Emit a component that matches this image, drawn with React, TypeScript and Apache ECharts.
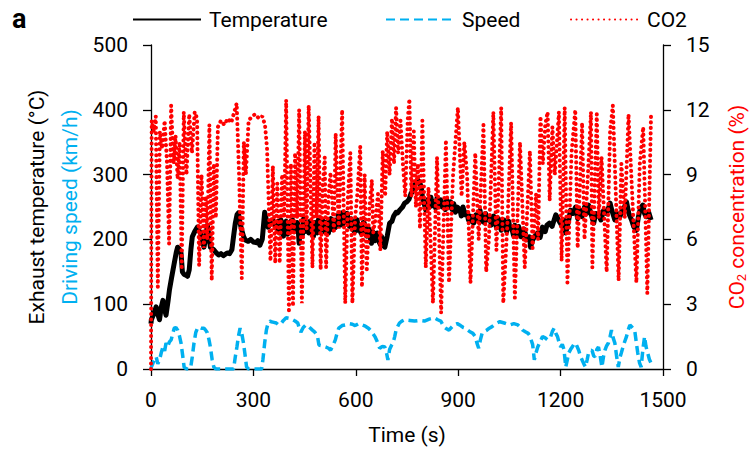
import React, { useEffect, useRef } from 'react';
import * as echarts from 'echarts';

const FONT = 'Roboto';

const xTickValues = [0, 300, 600, 900, 1200, 1500];
const leftTickValues = [0, 100, 200, 300, 400, 500];
const rightTickValues = [0, 3, 6, 9, 12, 15];
const seriesNames = ['Temperature', 'Speed', 'CO2'];

// [time (s), exhaust temperature (°C)]
const tempData: number[][] = [
  [0, 70], [1, 76], [8, 85], [15, 96], [20, 84], [25, 76], [30, 95], [35, 106], [40, 92], [44, 83],
  [50, 105], [54, 122], [60, 140], [68, 163], [74, 180], [78, 188], [83, 185], [88, 179], [92, 150],
  [97, 146], [102, 145], [107, 143], [112, 153], [117, 185], [121, 204], [128, 212], [136, 219],
  [140, 214], [145, 210], [150, 200], [155, 188], [160, 200], [165, 222], [170, 205], [174, 188],
  [179, 186], [184, 184], [190, 180], [198, 176], [205, 178], [212, 175], [223, 179], [230, 178],
  [237, 184], [242, 205], [247, 225], [252, 238], [256, 241], [261, 225], [266, 214], [271, 205],
  [276, 199], [285, 197], [292, 200], [300, 196], [308, 195], [313, 198], [319, 191], [326, 200],
  [333, 242], [338, 230], [343, 219], [350, 225], [357, 230], [364, 220], [370, 216], [373, 228],
  [377, 210], [381, 230], [384, 214], [388, 205], [392, 225], [396, 228], [400, 208], [405, 212],
  [410, 228], [415, 230], [420, 212], [425, 214], [428, 226], [430, 225], [434, 194], [437, 215],
  [440, 220], [444, 208], [447, 232], [451, 212], [454, 226], [458, 214], [462, 210], [466, 228],
  [470, 222], [473, 208], [476, 205], [480, 226], [483, 222], [487, 210], [490, 230], [494, 215],
  [497, 214], [501, 230], [505, 228], [509, 212], [512, 226], [516, 214], [520, 210], [524, 228],
  [527, 232], [532, 215], [536, 230], [540, 218], [545, 222], [549, 238], [552, 236], [556, 222],
  [560, 241], [563, 224], [567, 228], [571, 240], [575, 240], [579, 222], [582, 220], [586, 232],
  [589, 226], [593, 214], [597, 212], [600, 228], [604, 230], [608, 214], [611, 220], [615, 210],
  [618, 214], [622, 226], [625, 225], [629, 208], [632, 205], [636, 218], [639, 215], [643, 200],
  [646, 194], [649, 212], [652, 210], [656, 198], [660, 200], [663, 210], [666, 204], [669, 195],
  [672, 192], [676, 204], [679, 198], [682, 190], [685, 188], [692, 205], [699, 225], [706, 228],
  [711, 236], [718, 242], [723, 241], [730, 246], [737, 250], [743, 256], [750, 258], [756, 262],
  [762, 271], [768, 275], [774, 285], [781, 292], [787, 288], [792, 280], [796, 262], [800, 256],
  [805, 245], [812, 262], [816, 250], [820, 265], [825, 252], [830, 258], [834, 248], [838, 264],
  [843, 252], [849, 261], [853, 250], [858, 256], [862, 246], [866, 262], [872, 250], [878, 258],
  [882, 246], [887, 255], [892, 242], [897, 250], [905, 246], [909, 236], [914, 250], [920, 238],
  [926, 241], [930, 230], [935, 236], [940, 228], [945, 225], [952, 238], [958, 230], [964, 245],
  [968, 228], [972, 235], [976, 226], [980, 240], [987, 230], [993, 235], [997, 222], [1000, 226],
  [1004, 236], [1008, 232], [1012, 218], [1015, 222], [1018, 232], [1022, 225], [1026, 214],
  [1030, 220], [1034, 230], [1038, 226], [1042, 212], [1045, 218], [1048, 228], [1051, 219],
  [1058, 215], [1062, 206], [1066, 222], [1070, 205], [1073, 210], [1077, 220], [1080, 214],
  [1084, 204], [1088, 208], [1092, 216], [1095, 212], [1102, 200], [1109, 204], [1112, 188],
  [1118, 199], [1125, 205], [1133, 210], [1140, 203], [1147, 219], [1155, 212], [1160, 222],
  [1167, 225], [1175, 220], [1181, 230], [1186, 238], [1192, 232], [1198, 226], [1205, 220],
  [1210, 230], [1215, 210], [1222, 225], [1229, 245], [1236, 240], [1244, 250], [1250, 232],
  [1256, 245], [1263, 235], [1270, 250], [1276, 240], [1282, 253], [1290, 238], [1297, 225],
  [1303, 240], [1311, 238], [1318, 230], [1326, 245], [1335, 240], [1345, 256], [1350, 245],
  [1359, 230], [1366, 240], [1374, 235], [1380, 245], [1387, 250], [1393, 258], [1400, 240],
  [1408, 230], [1414, 220], [1422, 214], [1428, 235], [1434, 248], [1441, 253], [1446, 240],
  [1451, 235], [1458, 242], [1465, 230],
];

// [time (s), driving speed (km/h)]
const speedData: number[][] = [
  [0, 0], [1, 3], [8, 12], [15, 19], [20, 8], [25, 14], [30, 25], [35, 34], [40, 28], [44, 40],
  [49, 35], [54, 42], [59, 45], [64, 55], [68, 63], [73, 64], [78, 60], [83, 52], [88, 40], [93, 20],
  [97, 3], [104, 0], [112, 0], [117, 5], [121, 19], [126, 40], [131, 56], [136, 63], [140, 65],
  [148, 63], [155, 63], [160, 60], [165, 56], [170, 45], [174, 34], [179, 15], [184, 3], [190, 0],
  [203, 0], [225, 0], [242, 0], [247, 19], [252, 35], [256, 50], [261, 63], [266, 55], [271, 40],
  [276, 20], [280, 3], [286, 0], [300, 0], [324, 0], [328, 15], [333, 40], [338, 60], [343, 71],
  [348, 74], [352, 73], [360, 72], [367, 71], [374, 68], [381, 70], [388, 75], [396, 79], [405, 78],
  [415, 76], [422, 74], [430, 71], [435, 62], [439, 57], [446, 64], [454, 68], [463, 65], [473, 60],
  [480, 57], [488, 50], [492, 37], [500, 36], [512, 34], [520, 32], [526, 29], [533, 36], [540, 45],
  [545, 55], [550, 63], [560, 67], [569, 68], [580, 70], [590, 69], [598, 67], [608, 70], [618, 68],
  [628, 66], [637, 63], [646, 58], [656, 50], [663, 42], [670, 32], [678, 35], [685, 34], [690, 25],
  [694, 14], [699, 30], [704, 36], [709, 40], [714, 50], [718, 60], [723, 66], [728, 71], [735, 74],
  [743, 76], [758, 75], [772, 74], [786, 75], [801, 74], [815, 77], [830, 79], [840, 76], [849, 74],
  [858, 65], [866, 62], [873, 60], [880, 64], [887, 68], [897, 70], [907, 67], [915, 64], [921, 63],
  [928, 60], [936, 57], [943, 55], [950, 50], [955, 40], [960, 32], [965, 45], [970, 55], [977, 58],
  [984, 60], [991, 63], [998, 65], [1010, 70], [1022, 73], [1035, 71], [1051, 68], [1063, 70],
  [1075, 68], [1083, 64], [1089, 60], [1098, 57], [1105, 55], [1109, 52], [1113, 46], [1118, 38],
  [1120, 29], [1123, 14], [1128, 25], [1133, 34], [1140, 42], [1147, 50], [1155, 48], [1162, 45],
  [1167, 48], [1171, 50], [1176, 58], [1181, 63], [1186, 55], [1191, 50], [1196, 40], [1200, 34],
  [1205, 38], [1210, 30], [1215, 3], [1220, 15], [1224, 25], [1229, 30], [1234, 34], [1239, 38],
  [1244, 40], [1248, 35], [1253, 29], [1258, 20], [1263, 14], [1268, 8], [1273, 3], [1278, 15],
  [1282, 25], [1287, 28], [1292, 29], [1297, 20], [1301, 19], [1306, 30], [1311, 34], [1316, 20],
  [1321, 3], [1326, 20], [1330, 29], [1335, 36], [1340, 40], [1345, 50], [1349, 60], [1354, 48],
  [1359, 40], [1364, 20], [1369, 3], [1374, 18], [1378, 25], [1385, 38], [1393, 50], [1398, 60],
  [1403, 68], [1410, 64], [1417, 60], [1422, 40], [1426, 25], [1431, 10], [1436, 3], [1441, 30],
  [1446, 50], [1450, 35], [1455, 25], [1460, 15], [1465, 9],
];

// [time (s), CO2 concentration (%)]
const co2Data: number[][] = [
  [0, 0], [2, 11.5], [8, 11.0], [14, 11.7], [20, 3.8], [26, 11.0], [33, 10.2], [40, 11.5], [47, 9.5],
  [53, 5.8], [59, 12.2], [66, 9.5], [72, 10.8], [78, 8.8], [84, 10.5], [90, 4.6], [96, 11.9],
  [104, 9.0], [112, 11.8], [120, 10.0], [128, 11.9], [135, 11.6], [141, 4.8], [148, 9.0], [155, 5.6],
  [160, 8.0], [165, 6.0], [171, 11.3], [178, 4.1], [184, 9.5], [190, 7.0], [196, 11.2], [205, 11.5],
  [215, 11.3], [225, 11.6], [235, 11.4], [244, 11.9], [251, 12.3], [258, 9.0], [266, 4.2], [272, 10.5],
  [278, 9.0], [286, 11.5], [296, 11.7], [306, 11.8], [316, 11.6], [326, 11.7], [334, 11.3], [340, 10.2],
  [350, 5.0], [357, 9.4], [364, 4.9], [370, 8.6], [377, 4.9], [384, 9.0], [390, 7.0], [396, 12.45],
  [404, 2.6], [410, 9.5], [416, 2.9], [422, 10.0], [428, 7.0], [434, 12.0], [442, 3.05], [451, 11.0],
  [456, 6.5], [462, 12.2], [473, 4.7], [479, 10.5], [485, 7.0], [491, 11.7], [497, 4.6], [503, 8.5],
  [509, 9.8], [513, 4.7], [520, 8.0], [526, 9.1], [536, 6.4], [541, 10.9], [550, 6.5], [560, 12.0],
  [569, 3.05], [577, 8.0], [584, 10.0], [590, 3.05], [598, 7.0], [604, 8.0], [613, 10.3], [618, 3.8],
  [626, 9.0], [632, 4.5], [640, 7.5], [647, 8.75], [651, 6.3], [658, 7.0], [665, 8.1], [672, 5.5],
  [679, 10.1], [686, 8.0], [692, 11.0], [699, 9.0], [706, 11.6], [712, 9.5], [718, 12.1], [724, 10.0],
  [731, 11.5], [738, 9.5], [745, 8.0], [752, 11.5], [757, 12.5], [763, 8.0], [770, 11.0], [776, 7.5],
  [782, 9.5], [788, 6.5], [795, 11.5], [805, 4.7], [813, 8.4], [826, 3.05], [838, 9.8], [850, 2.6],
  [864, 10.6], [873, 4.0], [885, 9.0], [899, 12.1], [910, 8.0], [918, 10.5], [926, 9.0], [936, 4.0],
  [950, 10.0], [960, 6.0], [974, 11.3], [982, 4.5], [990, 6.0], [1003, 11.9], [1012, 5.5], [1026, 12.1],
  [1032, 3.05], [1045, 7.0], [1055, 11.4], [1066, 3.3], [1081, 10.5], [1095, 4.7], [1110, 10.1],
  [1118, 5.6], [1128, 8.1], [1134, 6.0], [1141, 11.7], [1148, 9.5], [1155, 11.3], [1162, 11.9],
  [1168, 7.8], [1176, 11.2], [1183, 9.0], [1195, 11.9], [1203, 5.0], [1212, 12.1], [1220, 4.0],
  [1232, 10.0], [1243, 12.0], [1250, 5.6], [1263, 11.4], [1270, 6.0], [1280, 9.0], [1289, 11.9],
  [1293, 4.7], [1306, 11.8], [1312, 7.0], [1320, 9.8], [1335, 4.5], [1345, 11.0], [1353, 12.2],
  [1362, 8.0], [1370, 4.1], [1378, 9.5], [1388, 7.0], [1399, 11.8], [1410, 8.0], [1422, 4.0],
  [1432, 9.5], [1442, 11.2], [1454, 3.5], [1465, 11.8],
];

const BLUE = '#00B0F0';
const RED = '#FF0000';

const axisLineStyle = { show: true, lineStyle: { color: '#000', width: 1.3 } };
const tickStyle = { show: true, length: 8, inside: false, lineStyle: { color: '#000', width: 1.3 } };
const labelStyle = { fontSize: 21, color: '#000', fontFamily: FONT, formatter: (v: number) => String(v) };

function legendFor(name: string, left: number) {
  return {
    data: [name],
    left,
    top: 9,
    padding: 0,
    itemWidth: 68,
    itemHeight: 14,
    itemStyle: { opacity: 0, borderWidth: 0 },
    textStyle: { fontSize: 21, color: '#000', fontFamily: FONT, padding: [0, 0, 0, 3] },
    selectedMode: false,
  };
}

export default function App() {
  const ref = useRef<HTMLDivElement>(null);
  useEffect(() => {
    const chart = echarts.init(ref.current!, null, { renderer: 'svg' });
    chart.setOption({
      animation: false,
      backgroundColor: '#fff',
      textStyle: { fontFamily: FONT },
      grid: { left: 151, right: 86, top: 45, bottom: 82, containLabel: false },
      legend: [legendFor(seriesNames[0], 132), legendFor(seriesNames[1], 385), legendFor(seriesNames[2], 570)],
      graphic: [
        {
          type: 'text',
          left: 12,
          top: 5,
          style: { text: 'a', fontSize: 27, fontWeight: 'bold', fontFamily: FONT, fill: '#000' },
        },
      ],
      xAxis: {
        type: 'value',
        min: xTickValues[0],
        max: xTickValues[xTickValues.length - 1],
        interval: xTickValues[1] - xTickValues[0],
        name: 'Time (s)',
        nameLocation: 'middle',
        nameGap: 55,
        nameTextStyle: { fontSize: 21, color: '#000', fontFamily: FONT },
        axisLine: { ...axisLineStyle, onZero: false },
        axisTick: { ...tickStyle, length: 7 },
        axisLabel: { ...labelStyle, margin: 20 },
        splitLine: { show: false },
      },
      yAxis: [
        {
          type: 'value',
          position: 'left',
          min: leftTickValues[0],
          max: leftTickValues[leftTickValues.length - 1],
          interval: leftTickValues[1] - leftTickValues[0],
          name: 'Exhaust temperature (°C)',
          nameLocation: 'middle',
          nameGap: 104,
          nameTextStyle: { fontSize: 21, color: '#000', fontFamily: FONT },
          axisLine: axisLineStyle,
          axisTick: tickStyle,
          axisLabel: { ...labelStyle, margin: 23 },
          splitLine: { show: false },
        },
        {
          type: 'value',
          position: 'right',
          min: rightTickValues[0],
          max: rightTickValues[rightTickValues.length - 1],
          interval: rightTickValues[1] - rightTickValues[0],
          name: '{a|CO}{b|2}{a| concentration (%)}',
          nameLocation: 'middle',
          nameRotate: 90,
          nameGap: 62,
          nameTextStyle: {
            fontSize: 21,
            color: RED,
            fontFamily: FONT,
            rich: {
              a: { fontSize: 21, color: RED, fontFamily: FONT },
              b: { fontSize: 13, color: RED, fontFamily: FONT, verticalAlign: 'bottom', padding: [10, 0, 0, 0] },
            },
          },
          axisLine: axisLineStyle,
          axisTick: tickStyle,
          axisLabel: { ...labelStyle, margin: 23 },
          splitLine: { show: false },
        },
        {
          type: 'value',
          position: 'left',
          min: leftTickValues[0],
          max: leftTickValues[leftTickValues.length - 1],
          interval: leftTickValues[1] - leftTickValues[0],
          name: 'Driving speed (km/h)',
          nameLocation: 'middle',
          nameGap: 71,
          nameTextStyle: { fontSize: 21, color: BLUE, fontFamily: FONT },
          axisLine: { show: false },
          axisTick: { show: false },
          axisLabel: { show: false },
          splitLine: { show: false },
        },
      ],
      series: [
        {
          name: seriesNames[0],
          type: 'line',
          yAxisIndex: 0,
          data: tempData,
          symbol: 'none',
          showSymbol: false,
          lineStyle: { color: '#000', width: 5, join: 'round' },
          itemStyle: { color: '#000' },
        },
        {
          name: seriesNames[1],
          type: 'line',
          yAxisIndex: 2,
          data: speedData,
          symbol: 'none',
          showSymbol: false,
          lineStyle: { color: BLUE, width: 3.5, type: [9, 5] },
          itemStyle: { color: BLUE },
        },
        {
          name: seriesNames[2],
          type: 'line',
          yAxisIndex: 1,
          data: co2Data,
          symbol: 'none',
          showSymbol: false,
          lineStyle: { color: RED, width: 4, type: [0.1, 5.4], cap: 'round' },
          itemStyle: { color: RED },
        },
      ],
    });
    return () => chart.dispose();
  }, []);
  return (
    <div
      ref={ref}
      style={{ position: 'fixed', left: 0, top: 0, width: 756, height: 451, background: '#fff' }}
    />
  );
}
